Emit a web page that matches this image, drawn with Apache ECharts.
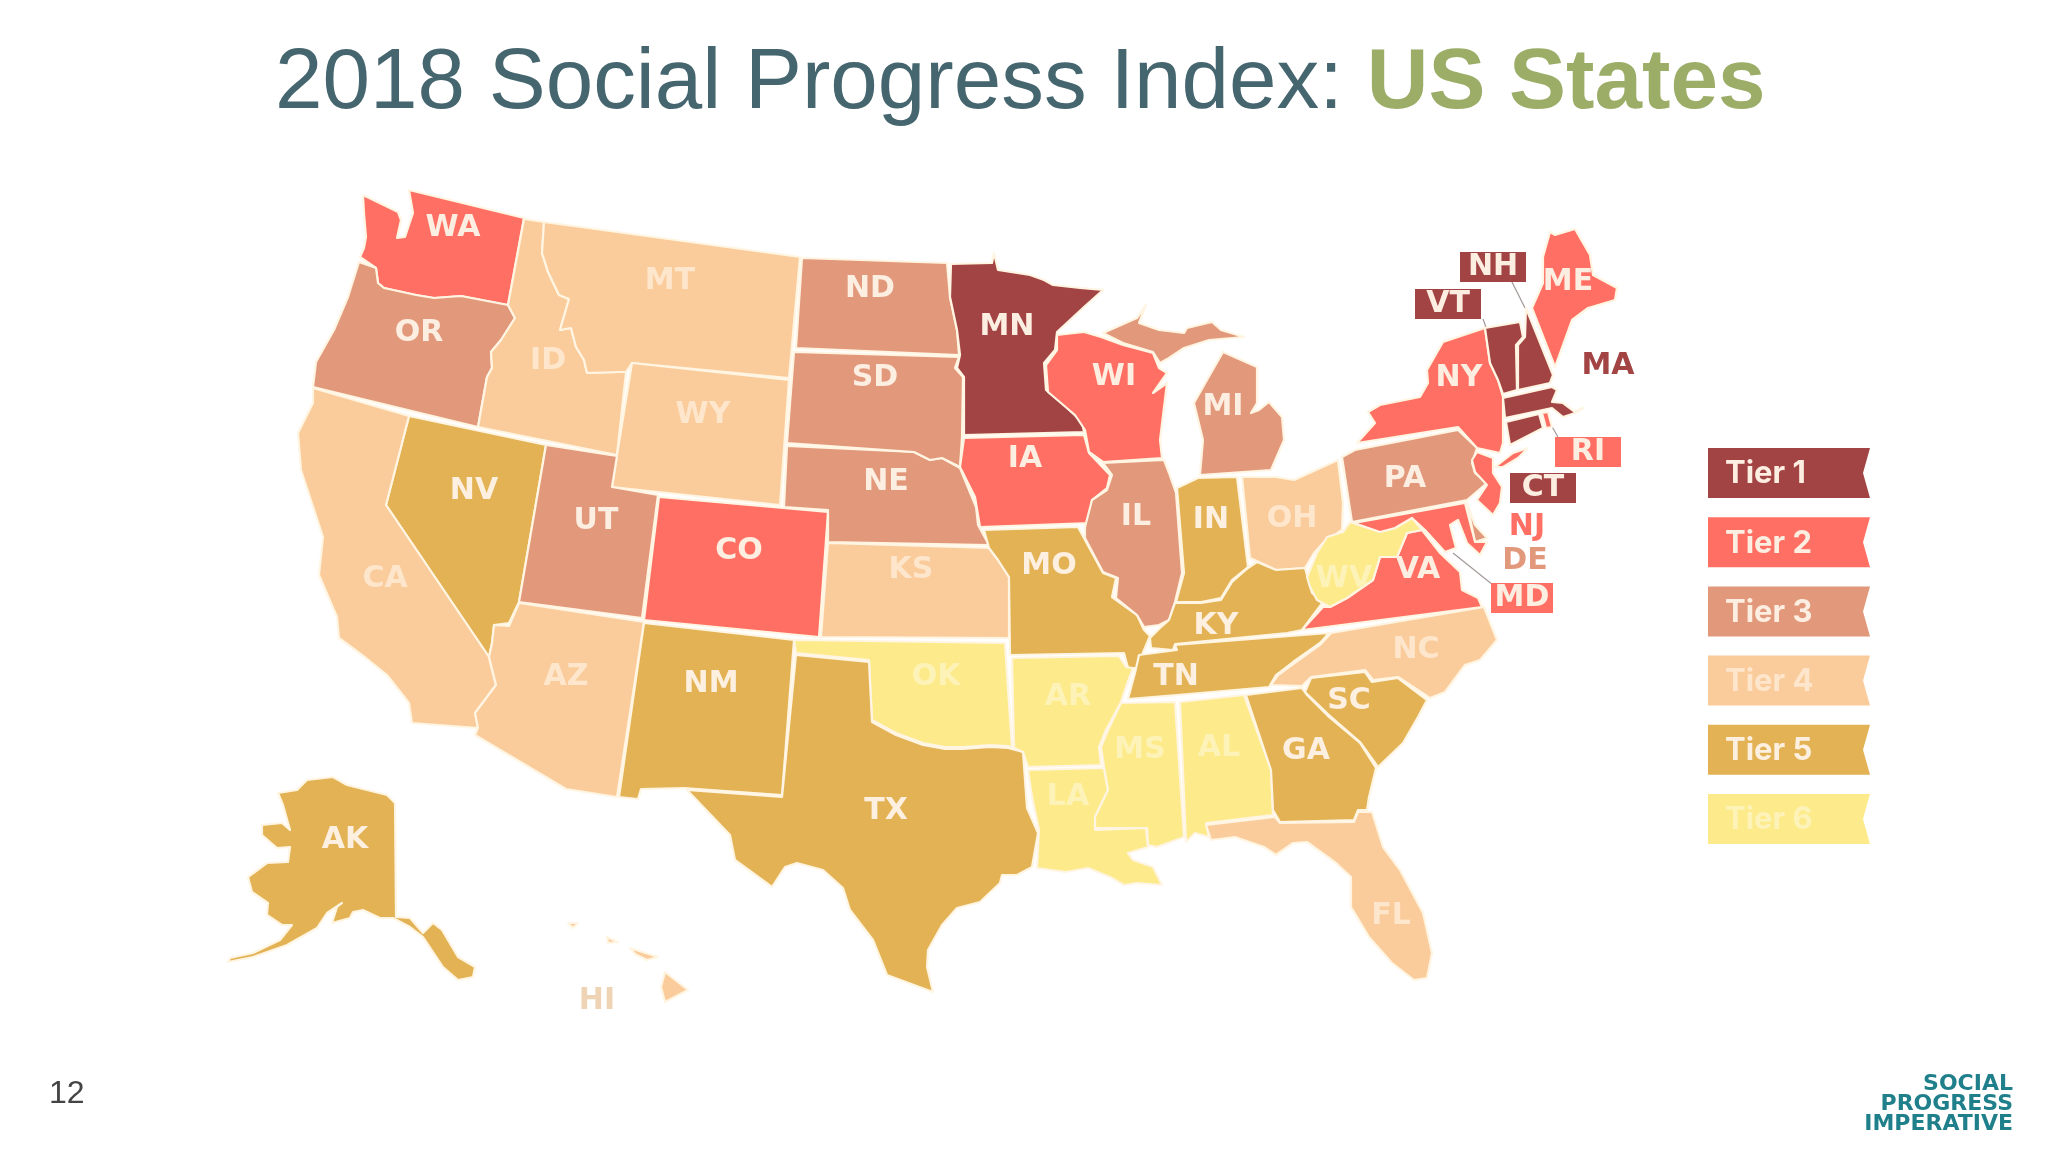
<!DOCTYPE html>
<html>
<head>
<meta charset="utf-8">
<style>html,body{margin:0;padding:0;background:#fff}#c{width:2048px;height:1152px}</style>
<script src="https://cdn.jsdelivr.net/npm/echarts@6/dist/echarts.min.js"></script>
</head>
<body>
<div id="c"></div>
<script>
const tierNames = ['Tier 1','Tier 2','Tier 3','Tier 4','Tier 5','Tier 6'];
const tierColors = ['#a34444','#ff6f63','#e2987b','#fbcc9b','#e2b254','#fdeb8b'];
const tierTextColors = ['#fdeee2','#fdeee2','#fdeee2','#fde6cc','#fdf0e0','#fdf3b8'];
const tier1 = ['MN','VT','NH','MA','CT'];
const tier2 = ['WA','CO','IA','WI','ME','NY','NJ','MD','VA','RI'];
const tier3 = ['OR','UT','ND','SD','NE','IL','MI','PA','DE'];
const tier4 = ['CA','ID','MT','WY','AZ','KS','OH','NC','FL','HI'];
const tier5 = ['AK','NV','NM','TX','MO','IN','KY','TN','GA','SC'];
const tier6 = ['OK','AR','LA','MS','AL','WV'];
const tiers = [tier1,tier2,tier3,tier4,tier5,tier6];
const boxedLabels = ['NH','VT','CT','RI','MD'];
const outsideLabels = ['MA','NJ','DE','HI'];

// Basemap geometry (one ring list per state)
const outlines = {
WA:[[[363,195],[398,212],[401,220],[397,238],[405,237],[413,213],[409,190],[524,218],[508,305],[461,296],[434,298],[416,295],[384,288],[378,283],[376,268],[360,257],[364,248],[366,237],[364,213]]],
OR:[[[359,262],[376,268],[378,283],[384,288],[416,295],[434,298],[461,296],[508,305],[515,318],[501,340],[491,352],[492,368],[487,377],[478,427],[313,387],[316,362],[334,330],[348,297]]],
ID:[[[524,219],[544,222],[542,253],[548,272],[559,295],[569,299],[562,323],[560,330],[571,328],[576,347],[584,360],[587,373],[619,372],[626,372],[617,455],[478,427],[487,377],[492,368],[491,352],[501,340],[515,318],[508,305]]],
MT:[[[544,222],[800,257],[789,378],[632,363],[626,372],[619,372],[587,373],[584,360],[576,347],[571,328],[560,330],[562,323],[569,299],[559,295],[548,272],[542,253]]],
WY:[[[632,363],[789,380],[780,505],[612,487],[617,455]]],
NV:[[[409,416],[546,445],[519,602],[509,623],[494,625],[492,643],[489,657],[386,505]]],
CA:[[[313,388],[409,416],[386,505],[489,657],[496,685],[475,713],[478,728],[412,723],[409,703],[387,675],[366,658],[339,638],[337,617],[319,575],[323,537],[301,470],[298,433],[313,403]]],
UT:[[[546,445],[617,456],[612,487],[658,495],[642,618],[519,602]]],
CO:[[[659,497],[828,512],[819,637],[644,620]]],
AZ:[[[519,603],[644,622],[617,797],[566,789],[475,735],[478,728],[475,713],[496,685],[489,657],[492,643],[494,625],[509,626]]],
NM:[[[644,623],[794,640],[782,795],[684,788],[641,789],[638,799],[619,797]]],
OK:[[[794,640],[1005,643],[1012,748],[1008,746],[990,745],[963,747],[945,747],[923,743],[896,733],[872,720],[869,660],[796,653]]],
TX:[[[796,655],[869,662],[872,722],[896,735],[923,745],[945,749],[963,749],[990,747],[1008,748],[1023,752],[1027,808],[1038,833],[1032,867],[1017,875],[1002,875],[1000,883],[980,902],[957,908],[942,925],[928,950],[927,967],[933,992],[887,975],[873,940],[850,910],[843,888],[823,870],[797,863],[785,867],[772,887],[735,860],[730,835],[687,790],[782,797]]],
KS:[[[828,543],[989,548],[998,560],[1009,577],[1009,638],[821,637]]],
NE:[[[787,446],[914,452],[930,460],[942,458],[960,468],[976,507],[978,525],[989,545],[828,542],[828,510],[784,507]]],
SD:[[[794,352],[959,357],[955,368],[963,377],[962,437],[960,467],[942,458],[930,460],[914,452],[787,443]]],
ND:[[[802,258],[947,263],[950,297],[957,330],[959,355],[796,348]]],
MN:[[[951,264],[992,263],[994,253],[998,270],[1030,275],[1044,280],[1053,285],[1080,288],[1103,290],[1084,307],[1057,332],[1055,350],[1044,363],[1046,390],[1062,403],[1082,422],[1084,432],[964,435],[964,377],[957,368],[960,355],[957,330],[950,297]]],
IA:[[[964,438],[1084,435],[1089,453],[1110,475],[1107,488],[1092,500],[1089,523],[980,527],[975,497],[960,467]]],
MO:[[[984,530],[1078,527],[1085,540],[1103,573],[1116,578],[1112,597],[1137,615],[1144,630],[1150,636],[1144,650],[1137,668],[1128,668],[1124,653],[1010,655],[1009,577],[998,560],[989,548]]],
AR:[[[1012,658],[1119,656],[1126,667],[1133,668],[1126,687],[1121,702],[1106,730],[1099,747],[1101,765],[1028,767],[1023,752],[1014,748]]],
LA:[[[1028,770],[1104,768],[1108,790],[1095,817],[1095,830],[1146,828],[1148,847],[1128,853],[1133,860],[1153,867],[1162,885],[1137,883],[1124,885],[1110,877],[1088,868],[1066,872],[1037,868],[1039,830],[1032,797]]],
MS:[[[1121,703],[1175,702],[1184,837],[1157,847],[1148,845],[1147,828],[1095,828],[1095,817],[1108,790],[1104,767],[1101,747],[1108,730]]],
AL:[[[1180,702],[1244,695],[1271,770],[1273,815],[1206,823],[1209,837],[1195,833],[1186,842]]],
TN:[[[1139,655],[1177,650],[1175,645],[1329,633],[1320,643],[1293,662],[1276,675],[1269,687],[1177,695],[1128,699],[1135,673]]],
GA:[[[1246,695],[1302,688],[1307,695],[1329,717],[1360,743],[1376,768],[1369,797],[1367,810],[1358,810],[1354,820],[1280,822],[1273,810],[1271,770]]],
SC:[[[1305,692],[1311,678],[1365,672],[1372,682],[1398,678],[1427,700],[1418,717],[1403,743],[1378,767],[1360,742],[1329,715]]],
NC:[[[1331,633],[1484,607],[1497,640],[1480,660],[1465,665],[1445,692],[1430,698],[1398,677],[1373,680],[1365,670],[1311,677],[1302,686],[1271,685],[1278,675],[1296,662],[1321,644]]],
FL:[[[1206,825],[1275,817],[1280,823],[1354,822],[1358,812],[1372,812],[1383,847],[1400,870],[1423,913],[1432,953],[1427,978],[1414,980],[1392,963],[1369,937],[1351,907],[1351,877],[1336,863],[1307,842],[1293,843],[1276,855],[1264,847],[1235,837],[1211,840]]],
IL:[[[1103,463],[1164,460],[1169,473],[1176,493],[1182,573],[1175,602],[1169,620],[1159,625],[1144,627],[1137,615],[1116,598],[1118,578],[1103,572],[1085,538],[1085,527],[1092,500],[1107,490],[1112,475]]],
IN:[[[1177,488],[1198,478],[1237,477],[1248,567],[1232,580],[1221,598],[1201,602],[1176,602],[1184,573]]],
OH:[[[1242,477],[1276,477],[1294,480],[1338,460],[1343,503],[1342,530],[1323,543],[1314,553],[1305,568],[1276,570],[1259,562],[1250,558]]],
MI:[[[1200,475],[1271,470],[1284,440],[1282,417],[1269,402],[1259,410],[1251,413],[1257,403],[1257,367],[1223,352],[1207,380],[1194,403],[1203,440]],[[1103,333],[1137,318],[1146,305],[1139,323],[1159,330],[1184,333],[1187,328],[1212,322],[1221,330],[1244,337],[1209,340],[1184,348],[1169,358],[1160,363],[1153,352],[1123,343]]],
WI:[[[1057,335],[1084,332],[1101,337],[1123,345],[1153,353],[1159,368],[1167,373],[1153,393],[1167,383],[1160,440],[1162,458],[1103,462],[1089,452],[1085,430],[1075,415],[1048,392],[1046,365],[1057,350]]],
KY:[[[1175,603],[1201,603],[1221,600],[1232,582],[1248,568],[1257,562],[1276,570],[1305,568],[1312,593],[1323,602],[1302,630],[1287,633],[1175,644],[1173,650],[1151,648],[1150,638],[1160,628],[1169,620]]],
VA:[[[1302,630],[1323,607],[1330,607],[1347,598],[1373,580],[1380,557],[1397,557],[1407,533],[1422,530],[1440,553],[1460,572],[1462,590],[1478,598],[1482,607]]],
WV:[[[1307,577],[1317,553],[1327,537],[1343,532],[1350,522],[1380,532],[1395,528],[1412,518],[1422,530],[1407,533],[1397,557],[1380,557],[1373,580],[1347,598],[1330,607],[1317,600],[1310,587]]],
PA:[[[1342,457],[1355,450],[1458,430],[1477,448],[1472,463],[1475,473],[1487,483],[1467,500],[1352,522]]],
NY:[[[1357,443],[1375,423],[1368,412],[1380,405],[1420,397],[1428,383],[1427,370],[1443,342],[1485,328],[1490,363],[1498,380],[1503,397],[1503,443],[1500,453],[1477,448],[1458,427]],[[1495,467],[1513,453],[1528,448],[1518,458],[1503,467]]],
NJ:[[[1477,452],[1493,458],[1493,473],[1502,487],[1500,503],[1493,515],[1477,500],[1487,485],[1475,472],[1472,460]]],
DE:[[[1467,503],[1475,525],[1487,538],[1475,542]]],
MD:[[[1354,523],[1465,503],[1475,542],[1487,542],[1480,555],[1467,543],[1458,520],[1450,525],[1456,548],[1445,552],[1425,530],[1412,518],[1395,528],[1380,532]]],
VT:[[[1485,328],[1520,322],[1523,337],[1516,345],[1517,390],[1503,394],[1498,380],[1490,363]]],
NH:[[[1526,308],[1553,375],[1550,383],[1518,390],[1518,345],[1525,337]]],
ME:[[[1532,308],[1543,283],[1543,257],[1550,232],[1555,235],[1575,229],[1590,255],[1593,275],[1617,288],[1615,300],[1588,308],[1572,320],[1555,367]]],
MA:[[[1503,398],[1552,387],[1557,390],[1552,402],[1563,403],[1575,412],[1583,408],[1575,413],[1563,417],[1552,408],[1505,418]]],
CT:[[[1506,422],[1539,414],[1543,428],[1510,445]]],
RI:[[[1542,413],[1548,412],[1552,427],[1546,428]]],
AK:[[[278,793],[297,790],[307,780],[333,777],[347,785],[387,795],[395,803],[396,917],[410,918],[423,933],[433,923],[442,930],[458,957],[475,967],[473,977],[458,980],[443,967],[423,937],[410,927],[393,918],[380,918],[363,910],[353,912],[350,918],[332,923],[337,907],[342,903],[327,913],[317,928],[287,945],[253,957],[228,962],[230,958],[253,953],[280,940],[292,925],[282,925],[267,915],[268,903],[252,892],[248,877],[267,863],[288,862],[290,847],[277,848],[262,835],[262,825],[282,823],[290,830],[283,805]]],
HI:[[[665,972],[688,990],[665,1002],[661,987]],[[630,948],[658,957],[647,960],[635,954]],[[607,937],[618,942],[608,943]],[[568,923],[578,923],[573,928]]]
};
// Where each state's label sits on the basemap
const labelPoints = {WA:[453,228],OR:[419,333],ID:[548,361],MT:[670,281],WY:[703,415],NV:[474,491],UT:[596,521],CO:[739,551],CA:[385,579],AZ:[566,677],NM:[711,684],ND:[870,289],SD:[875,378],NE:[886,482],KS:[911,570],OK:[936,677],TX:[886,811],MN:[1007,327],IA:[1025,459],MO:[1049,566],AR:[1068,697],LA:[1068,797],WI:[1114,377],MI:[1223,407],IL:[1136,517],IN:[1211,520],OH:[1292,519],KY:[1216,626],TN:[1176,677],MS:[1140,750],AL:[1219,748],GA:[1306,751],SC:[1349,701],NC:[1416,650],FL:[1391,916],WV:[1344,579],VA:[1418,570],PA:[1405,479],NY:[1459,378],ME:[1568,282],NH:[1493,267],VT:[1448,304],MA:[1608,366],RI:[1588,452],CT:[1543,488],NJ:[1527,527],DE:[1525,561],MD:[1522,598],AK:[345,840],HI:[597,1001]};
const leaderLines = [[[1512,282],[1525,308]],[[1483,319],[1487,330]],[[1547,418],[1558,437]],[[1453,553],[1493,585]]];

const geojson = {type:'FeatureCollection',features:Object.keys(outlines).map(function(k){
  return {type:'Feature',properties:{name:k,cp:labelPoints[k]},geometry:{type:'MultiPolygon',coordinates:outlines[k].map(function(r){return [r.concat([r[0]])];})}};
})};
echarts.registerMap('us', geojson);

let x0=1e9,y0=1e9,x1=-1e9,y1=-1e9;
Object.values(outlines).forEach(function(rs){rs.forEach(function(r){r.forEach(function(p){
  x0=Math.min(x0,p[0]);x1=Math.max(x1,p[0]);y0=Math.min(y0,p[1]);y1=Math.max(y1,p[1]);});});});
const box = {left:x0,top:y0,width:x1-x0,height:y1-y0};
const identity = {project:function(p){return p;},unproject:function(p){return p;}};

const labelFont = {fontFamily:'"DejaVu Sans"',fontWeight:'bold',fontSize:30};
const stateData = [];
tiers.forEach(function(list,i){list.forEach(function(s){
  const label = {show:true,color:tierTextColors[i]};
  if(boxedLabels.includes(s)){
    Object.assign(label,{color:'#fdeee2',backgroundColor:tierColors[i],width:s==='MD'?62:66,height:30,lineHeight:30,align:'center',verticalAlign:'middle'});
  }else if(outsideLabels.includes(s)){
    label.color = s==='HI' ? '#eed4b4' : tierColors[i];
  }
  stateData.push({name:s,value:i+1,itemStyle:{areaColor:tierColors[i]},label:label});
});});

const ribbonX=1708, ribbonW=162, ribbonH=50, ribbonTop=448, ribbonStep=69.2, notch=7;
const legendGraphics=[];
tierNames.forEach(function(t,i){
  const y=ribbonTop+i*ribbonStep;
  legendGraphics.push({type:'polygon',silent:true,shape:{points:[[ribbonX,y],[ribbonX+ribbonW,y],[ribbonX+ribbonW-notch,y+ribbonH/2],[ribbonX+ribbonW,y+ribbonH],[ribbonX,y+ribbonH]]},style:{fill:tierColors[i]}});
  legendGraphics.push({type:'text',silent:true,x:ribbonX+17,y:y+ribbonH/2+1,style:{text:t,fill:tierTextColors[i],font:'bold 31px Inter',textVerticalAlign:'middle'}});
});

const chart = echarts.init(document.getElementById('c'),null,{renderer:'canvas'});
chart.setOption({
  animation:false,
  backgroundColor:'#ffffff',
  title:[
    {text:'{a|2018 Social Progress Index: }{b|US States}',left:270,top:37,textStyle:{rich:{
      a:{fontFamily:'"Liberation Sans"',fontSize:85.4,color:'#46666f',fontWeight:'normal'},
      b:{fontFamily:'"Liberation Sans"',fontSize:85.4,color:'#9bad66',fontWeight:'bold'}}}},
    {text:'12',left:44,top:1073,textStyle:{fontFamily:'"Liberation Sans"',fontSize:32,fontWeight:'normal',color:'#444444'}},
    {text:'SOCIAL\nPROGRESS\nIMPERATIVE',left:2008,top:1069,textAlign:'right',textStyle:{fontFamily:'"DejaVu Sans"',fontWeight:'bold',fontSize:22,lineHeight:20,color:'#1f7f8a'}}
  ],
  geo:Object.assign({map:'us',projection:identity,roam:false,silent:true,z:1,
    itemStyle:{areaColor:'rgba(0,0,0,0)',borderWidth:0},label:{show:false},emphasis:{disabled:true}},box),
  series:[
    Object.assign({type:'map',map:'us',projection:identity,roam:false,silent:true,z:2,
      itemStyle:{borderColor:'#fff5e2',borderWidth:2.2,borderJoin:'round'},
      label:Object.assign({show:true},labelFont),
      emphasis:{disabled:true},select:{disabled:true},data:stateData},box),
    {type:'lines',coordinateSystem:'geo',silent:true,z:1,polyline:false,symbol:'none',
      lineStyle:{color:'#8f7f80',width:1.2,opacity:0.8},data:leaderLines.map(function(l){return {coords:l};})}
  ],
  graphic:legendGraphics
});
</script>
</body>
</html>
